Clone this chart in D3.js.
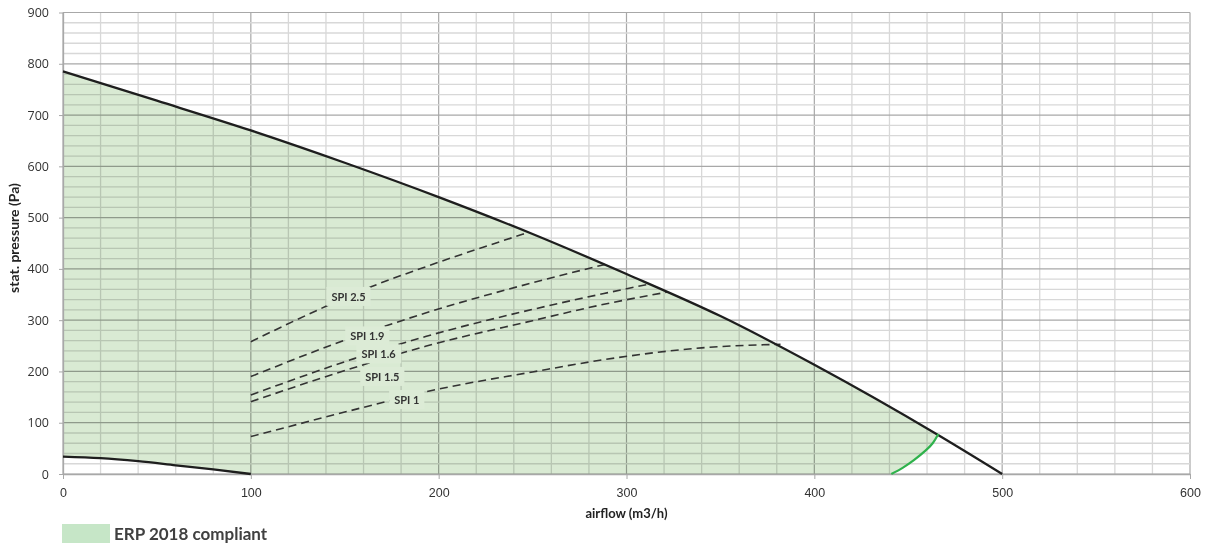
<!DOCTYPE html>
<html>
<head>
<meta charset="utf-8">
<script src="https://cdn.jsdelivr.net/npm/d3@7"></script>
<style>
  html, body { margin: 0; padding: 0; background: #fff; }
  svg { display: block; }
</style>
</head>
<body>
<svg id="chart" width="1211" height="544"></svg>
<script>
// ---- data ----
const xTicks = [0, 100, 200, 300, 400, 500, 600];
const yTicks = [0, 100, 200, 300, 400, 500, 600, 700, 800, 900];

// fan curve (airflow m3/h, pressure Pa)
const fanX = [0, 50, 100, 150, 200, 250, 300, 350, 400, 465, 500];
const fanY = [785, 728, 670, 607, 540, 468, 390, 308, 213, 78, 0];

// lower limit curve
const lowX = [0, 20, 40, 60, 80, 100];
const lowY = [34, 31, 25, 17, 9, 0];

// green limit curve (ERP boundary)
const greenX = [441, 447, 453, 459, 463, 466];
const greenY = [0, 12, 27, 45, 60, 78];

// SPI dashed curves
const spiNames = ["SPI 2.5", "SPI 1.9", "SPI 1.6", "SPI 1.5", "SPI 1"];
const spiX = [
  [100, 140, 164, 193, 246],
  [100, 150, 193, 250, 290],
  [100, 155, 193, 250, 288, 313],
  [100, 159, 193, 250, 288, 322],
  [100, 173, 193, 250, 288, 340, 382]
];
const spiY = [
  [258, 327, 365, 404, 469],
  [190, 261, 314, 373, 410],
  [154, 225, 268, 321, 352, 371],
  [141, 212, 249, 299, 331, 355],
  [73, 142, 160, 199, 223, 246, 253]
];
// label anchor positions (data coords)
const spiLabelX = [152, 162, 168, 170, 183];
const spiLabelY = [345, 268, 233, 189, 144];

const xTitle = "airflow (m3/h)";
const yTitle = "stat. pressure (Pa)";
const legendLabel = "ERP 2018 compliant";

// ---- layout ----
const svg = d3.select("#chart");
const x = d3.scaleLinear().domain([0, 600]).range([63, 1190]);
const y = d3.scaleLinear().domain([0, 900]).range([474, 12.5]);

const fillColor = "#d9ead3";
const legendColor = "#c6e6c7";

// grid
const grid = svg.append("g");
d3.range(0, 601, 20).forEach(v => {
  grid.append("line")
    .attr("x1", x(v)).attr("x2", x(v)).attr("y1", y(0)).attr("y2", y(900))
    .attr("stroke", v % 100 === 0 ? "#a8a8a8" : "#d8d8d8")
    .attr("stroke-width", v % 100 === 0 ? 1.2 : 1.3);
});
d3.range(0, 901, 20).forEach(v => {
  grid.append("line")
    .attr("x1", x(0)).attr("x2", x(600)).attr("y1", y(v)).attr("y2", y(v))
    .attr("stroke", v % 100 === 0 ? "#a8a8a8" : "#d8d8d8")
    .attr("stroke-width", v % 100 === 0 ? 1.2 : 1.3);
});

// fill region
const fanPts = fanX.map((d, i) => [d, fanY[i]]);
const lowPts = lowX.map((d, i) => [d, lowY[i]]);
const greenPts = greenX.map((d, i) => [d, greenY[i]]);

const lineMono = d3.line().x(d => x(d[0])).y(d => y(d[1])).curve(d3.curveMonotoneX);
const lineCR = d3.line().x(d => x(d[0])).y(d => y(d[1])).curve(d3.curveCatmullRom.alpha(0.5));
const lineLin = d3.line().x(d => x(d[0])).y(d => y(d[1]));

const fanFillPts = fanPts.filter(p => p[0] <= 465);
const seg1 = lineMono(fanFillPts);
const seg2 = lineCR(greenPts.slice().reverse()).replace(/^M/, "L");
const seg3 = lineLin([[greenX[0], 0], [100, 0]]).replace(/^M/, "L");
const seg4 = lineCR(lowPts.slice().reverse()).replace(/^M/, "L");
svg.append("path")
  .attr("d", seg1 + seg2 + seg3 + seg4 + "Z")
  .attr("fill", fillColor)
  .style("mix-blend-mode", "multiply");

// axes
const xAxis = svg.append("g")
  .attr("transform", `translate(0,${y(0)})`)
  .call(d3.axisBottom(x).tickValues(xTicks).tickSize(5).tickPadding(9).tickSizeOuter(0));
xAxis.select(".domain").attr("stroke", "#a8a8a8").attr("stroke-width", 1.3);
xAxis.selectAll(".tick line").attr("stroke", "#a8a8a8");
xAxis.selectAll("text")
  .attr("font-family", "'Liberation Sans Narrow', 'Arial Narrow', sans-serif")
  .attr("font-size", 12.5).attr("fill", "#333");

const yAxis = svg.append("g")
  .attr("transform", `translate(${x(0)},0)`)
  .call(d3.axisLeft(y).tickValues(yTicks).tickSize(4).tickPadding(10).tickSizeOuter(0));
yAxis.select(".domain").attr("stroke", "#a8a8a8").attr("stroke-width", 1.3);
yAxis.selectAll(".tick line").attr("stroke", "#a8a8a8");
yAxis.selectAll("text")
  .attr("font-family", "'Open Sans', sans-serif")
  .attr("font-size", 12.5).attr("fill", "#333");

// SPI dashed curves
spiNames.forEach((name, i) => {
  const pts = spiX[i].map((d, j) => [d, spiY[i][j]]);
  svg.append("path")
    .attr("d", lineMono(pts))
    .attr("fill", "none")
    .attr("stroke", "#333")
    .attr("stroke-width", 1.6)
    .attr("stroke-dasharray", "8,5");
});

// SPI labels with background boxes
spiNames.forEach((name, i) => {
  const g = svg.append("g");
  const t = g.append("text")
    .attr("x", x(spiLabelX[i])).attr("y", y(spiLabelY[i]))
    .attr("text-anchor", "middle").attr("dy", "0.35em")
    .attr("font-family", "Lato, sans-serif").attr("font-weight", "bold")
    .attr("font-size", 11).attr("fill", "#333").text(name);
  const bb = t.node().getBBox();
  g.insert("rect", "text")
    .attr("x", bb.x - 5).attr("y", bb.y - 3)
    .attr("width", bb.width + 10).attr("height", bb.height + 6)
    .attr("fill", "#dcebd6");
});

// curves
svg.append("path").attr("d", lineMono(fanPts))
  .attr("fill", "none").attr("stroke", "#1e1e1e").attr("stroke-width", 2.3);
svg.append("path").attr("d", lineMono(lowPts))
  .attr("fill", "none").attr("stroke", "#1e1e1e").attr("stroke-width", 2.3);
svg.append("path").attr("d", lineCR(greenPts))
  .attr("fill", "none").attr("stroke", "#2fb24c").attr("stroke-width", 2.2);

// axis titles
svg.append("text")
  .attr("x", x(300)).attr("y", 518)
  .attr("text-anchor", "middle")
  .attr("font-family", "Lato, sans-serif").attr("font-weight", "bold")
  .attr("font-size", 13).attr("fill", "#222").text(xTitle);
svg.append("text")
  .attr("transform", "translate(19,238) rotate(-90)")
  .attr("text-anchor", "middle")
  .attr("font-family", "Lato, sans-serif").attr("font-weight", "bold")
  .attr("font-size", 14).attr("fill", "#222").text(yTitle);

// legend
svg.append("rect").attr("x", 62).attr("y", 524).attr("width", 48).attr("height", 19)
  .attr("fill", legendColor);
svg.append("text").attr("x", 114).attr("y", 540)
  .attr("font-family", "Lato, sans-serif").attr("font-weight", "bold")
  .attr("font-size", 17).attr("fill", "#404040").text(legendLabel);
</script>
</body>
</html>
